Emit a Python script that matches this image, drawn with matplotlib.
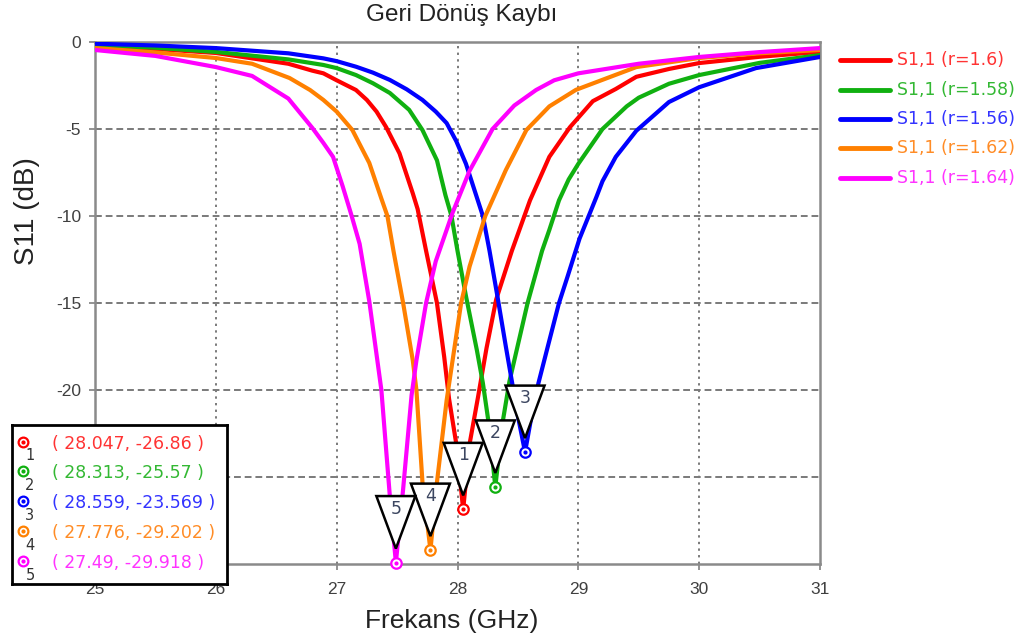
import matplotlib
matplotlib.use("Agg")
import matplotlib.pyplot as plt
import matplotlib.transforms as mtransforms
from matplotlib.patches import Polygon
from matplotlib.lines import Line2D
import numpy as np

# ---- S11 sweeps for each radius (GHz, dB) ----
f_r160 = [25.0, 25.5, 26.0, 26.6, 26.8, 26.89, 27.0, 27.16, 27.25, 27.33, 27.41, 27.52, 27.63,
          27.67, 27.74, 27.83, 27.89, 27.93, 27.99, 28.047, 28.10, 28.17, 28.24, 28.32, 28.45,
          28.60, 28.76, 28.93, 29.12, 29.31, 29.48, 29.75, 30.0, 30.5, 31.0]
s_r160 = [-0.23, -0.4, -0.63, -1.25, -1.65, -1.8, -2.2, -2.76, -3.33, -4.0, -4.9, -6.4, -8.7,
          -9.6, -12.0, -15.0, -18.1, -20.5, -23.1, -26.86, -23.1, -20.4, -17.6, -14.8, -12.0,
          -9.1, -6.6, -4.9, -3.4, -2.7, -2.0, -1.55, -1.21, -0.85, -0.57]

f_r158 = [25.0, 25.5, 26.0, 26.6, 26.89, 27.0, 27.16, 27.30, 27.44, 27.60, 27.71, 27.83, 27.90,
          27.95, 28.00, 28.07, 28.16, 28.21, 28.26, 28.313, 28.37, 28.43, 28.51, 28.58, 28.62,
          28.70, 28.76, 28.84, 28.92, 29.0, 29.2, 29.4, 29.5, 29.75, 30.0, 30.5, 31.0]
s_r158 = [-0.17, -0.33, -0.57, -1.0, -1.32, -1.5, -1.9, -2.37, -2.93, -3.9, -5.06, -6.8, -8.8,
          -10.0, -12.0, -14.6, -17.7, -19.6, -22.0, -25.57, -22.0, -19.5, -17.1, -15.0, -14.0,
          -12.0, -10.8, -9.1, -7.9, -7.0, -5.0, -3.7, -3.2, -2.4, -1.9, -1.2, -0.75]

f_r156 = [25.0, 25.5, 26.0, 26.6, 26.75, 26.89, 27.0, 27.16, 27.30, 27.44, 27.58, 27.71, 27.82,
          27.91, 27.99, 28.07, 28.14, 28.21, 28.265, 28.33, 28.40, 28.45, 28.50, 28.559, 28.61,
          28.67, 28.74, 28.84, 28.91, 29.01, 29.15, 29.20, 29.31, 29.48, 29.75, 30.0, 30.47, 31.0]
s_r156 = [-0.1, -0.2, -0.35, -0.65, -0.8, -0.94, -1.1, -1.42, -1.76, -2.18, -2.72, -3.33, -4.0,
          -4.66, -5.7, -7.0, -8.5, -10.0, -12.0, -14.6, -17.5, -19.5, -21.5, -23.569, -21.6,
          -19.6, -17.7, -15.0, -13.5, -11.3, -8.9, -8.0, -6.6, -5.1, -3.45, -2.6, -1.5, -0.86]

f_r162 = [25.0, 25.5, 26.0, 26.3, 26.61, 26.78, 26.89, 27.0, 27.13, 27.27, 27.37, 27.42, 27.47,
          27.55, 27.63, 27.66, 27.71, 27.776, 27.83, 27.91, 28.03, 28.10, 28.23, 28.40, 28.57,
          28.76, 28.98, 29.48, 30.0, 30.5, 31.0]
s_r162 = [-0.35, -0.6, -0.92, -1.25, -2.07, -2.76, -3.33, -4.0, -5.06, -6.95, -9.0, -10.0, -12.0,
          -15.0, -18.3, -20.0, -25.3, -29.202, -25.3, -20.6, -15.0, -12.9, -10.0, -7.36, -5.06,
          -3.7, -2.75, -1.44, -0.92, -0.65, -0.46]

f_r164 = [25.0, 25.5, 26.0, 26.3, 26.6, 26.8, 26.89, 26.97, 27.05, 27.12, 27.19, 27.27, 27.37,
          27.44, 27.49, 27.55, 27.62, 27.66, 27.74, 27.82, 27.96, 28.10, 28.29, 28.47, 28.65,
          28.8, 29.0, 29.5, 30.0, 30.5, 31.0]
s_r164 = [-0.46, -0.8, -1.44, -1.95, -3.25, -4.95, -5.8, -6.6, -8.3, -9.9, -11.6, -14.9, -20.0,
          -26.1, -29.918, -25.7, -20.3, -18.3, -15.0, -12.6, -9.8, -7.4, -5.0, -3.65, -2.76,
          -2.2, -1.8, -1.25, -0.86, -0.58, -0.35]

series_labels = ["S1,1 (r=1.6)", "S1,1 (r=1.58)", "S1,1 (r=1.56)", "S1,1 (r=1.62)", "S1,1 (r=1.64)"]
series_freq = [f_r160, f_r158, f_r156, f_r162, f_r164]
series_s11 = [s_r160, s_r158, s_r156, s_r162, s_r164]
line_colors = ["#ff0000", "#10b010", "#0000ff", "#ff8000", "#ff00ff"]
text_colors = ["#ff3333", "#33b833", "#3333ff", "#ff8c26", "#ff33ff"]

x_ticks = [25, 26, 27, 28, 29, 30, 31]
y_ticks = [0, -5, -10, -15, -20, -25, -30]
# the two lowest y labels sit under the marker readout box
y_tick_labels = ["0", "-5", "-10", "-15", "-20", "", ""]

W, H = 1024, 644
fig = plt.figure(figsize=(W / 100, H / 100), dpi=100)
fig.patch.set_facecolor("white")


def fx(px):
    return px / W


def fy(py):
    return 1 - py / H


ax = fig.add_axes([fx(95), fy(564), fx(820) - fx(95), fy(42) - fy(564)])
ax.set_xlim(25, 31)
ax.set_ylim(-30, 0)
ax.set_xticks(x_ticks)
ax.set_yticks(y_ticks)
ax.set_xticklabels([str(t) for t in x_ticks], fontfamily="Liberation Sans", fontsize=12.5, color="#404040")
ax.set_yticklabels(y_tick_labels, fontfamily="Liberation Sans", fontsize=12.5, color="#404040")
ax.tick_params(direction="out", length=4, width=1.2, color="#808080")
ax.tick_params(axis="x", pad=9)
ax.tick_params(axis="y", pad=6)

for x in x_ticks[1:-1]:
    ax.axvline(x, color="#7a7a7a", lw=1.4, ls=(0, (1.2, 2.2)), zorder=1)
for y in y_ticks[1:-1]:
    ax.axhline(y, color="#7a7a7a", lw=1.4, ls=(0, (3.5, 2.0)), zorder=1)

for sp in ax.spines.values():
    sp.set_color("#8a8a8a")
    sp.set_linewidth(1.8)

# curves
for f, s, c, lab in zip(series_freq, series_s11, line_colors, series_labels):
    ax.plot(f, s, color=c, lw=3.0, label=lab, solid_joinstyle="round", zorder=3)

# marker triangles and circles at each curve minimum
for i, (f, s, c) in enumerate(zip(series_freq, series_s11, line_colors)):
    k = int(np.argmin(s))
    mf, ms = f[k], s[k]
    tr = fig.dpi_scale_trans + mtransforms.ScaledTranslation(mf, ms, ax.transData)
    tri = Polygon([(0, 0.14), (-0.195, 0.665), (0.195, 0.665)], closed=True,
                  facecolor="white", edgecolor="black", lw=1.8, transform=tr,
                  zorder=6, clip_on=False)
    ax.add_patch(tri)
    ax.text(0, 0.54, str(i + 1), transform=tr, ha="center", va="center",
            fontsize=12.5, color="#3c4660", fontfamily="DejaVu Sans", zorder=7)
    ax.plot([mf], [ms], marker="o", ms=7.5, mfc="white", mec=c, mew=1.6,
            zorder=8, clip_on=False)
    ax.plot([mf], [ms], marker="o", ms=2.0, mfc=c, mec=c, zorder=9, clip_on=False)

# titles and axis labels
fig.text(fx(462), fy(15), "Geri Dönüş Kaybı", ha="center", va="center",
         fontsize=17.5, fontfamily="Liberation Sans", color="#222222")
fig.text(fx(452), fy(621), "Frekans (GHz)", ha="center", va="center",
         fontsize=19, fontfamily="Liberation Sans", color="#222222")
fig.text(fx(27), fy(211), "S11 (dB)", ha="center", va="center", rotation=90,
         fontsize=20, fontfamily="Liberation Sans", color="#222222")

# legend on the right
row_y = [60, 90, 119, 148, 178]
for yy, c, tc, lab in zip(row_y, line_colors, text_colors, series_labels):
    fig.add_artist(Line2D([fx(840), fx(890)], [fy(yy), fy(yy)], color=c, lw=3.5,
                          solid_capstyle="round"))
    fig.text(fx(897), fy(yy), lab, ha="left", va="center", fontsize=12.5,
             fontfamily="DejaVu Sans", color=tc)

# marker readout box
bx = fig.add_axes([fx(12), fy(584), fx(227) - fx(12), fy(425) - fy(584)], zorder=10)
bx.set_xlim(0, 1)
bx.set_ylim(0, 1)
bx.set_xticks([])
bx.set_yticks([])
bx.set_facecolor("white")
for sp in bx.spines.values():
    sp.set_color("black")
    sp.set_linewidth(2.0)

box_top, box_h = 425, 584 - 425
text_rows = [444, 473, 503, 533, 563]
for i, (f, s, c, tc, yy) in enumerate(zip(series_freq, series_s11, line_colors, text_colors, text_rows)):
    k = int(np.argmin(s))
    yf = 1 - (yy - box_top) / box_h
    ycirc = 1 - (yy - 2 - box_top) / box_h
    ydig = 1 - (yy + 12 - box_top) / box_h
    bx.plot([11 / 215], [ycirc], marker="o", ms=7, mfc="white", mec=c, mew=1.6, clip_on=False)
    bx.plot([11 / 215], [ycirc], marker="o", ms=2, mfc=c, mec=c, clip_on=False)
    bx.text(18 / 215, ydig, str(i + 1), ha="center", va="center", fontsize=10.5,
            fontfamily="DejaVu Sans", color="#333333")
    bx.text(40 / 215, yf, f"( {f[k]:g}, {s[k]:g} )", ha="left", va="center",
            fontsize=12.5, fontfamily="DejaVu Sans", color=tc)

fig.savefig("out.png", dpi=100)
